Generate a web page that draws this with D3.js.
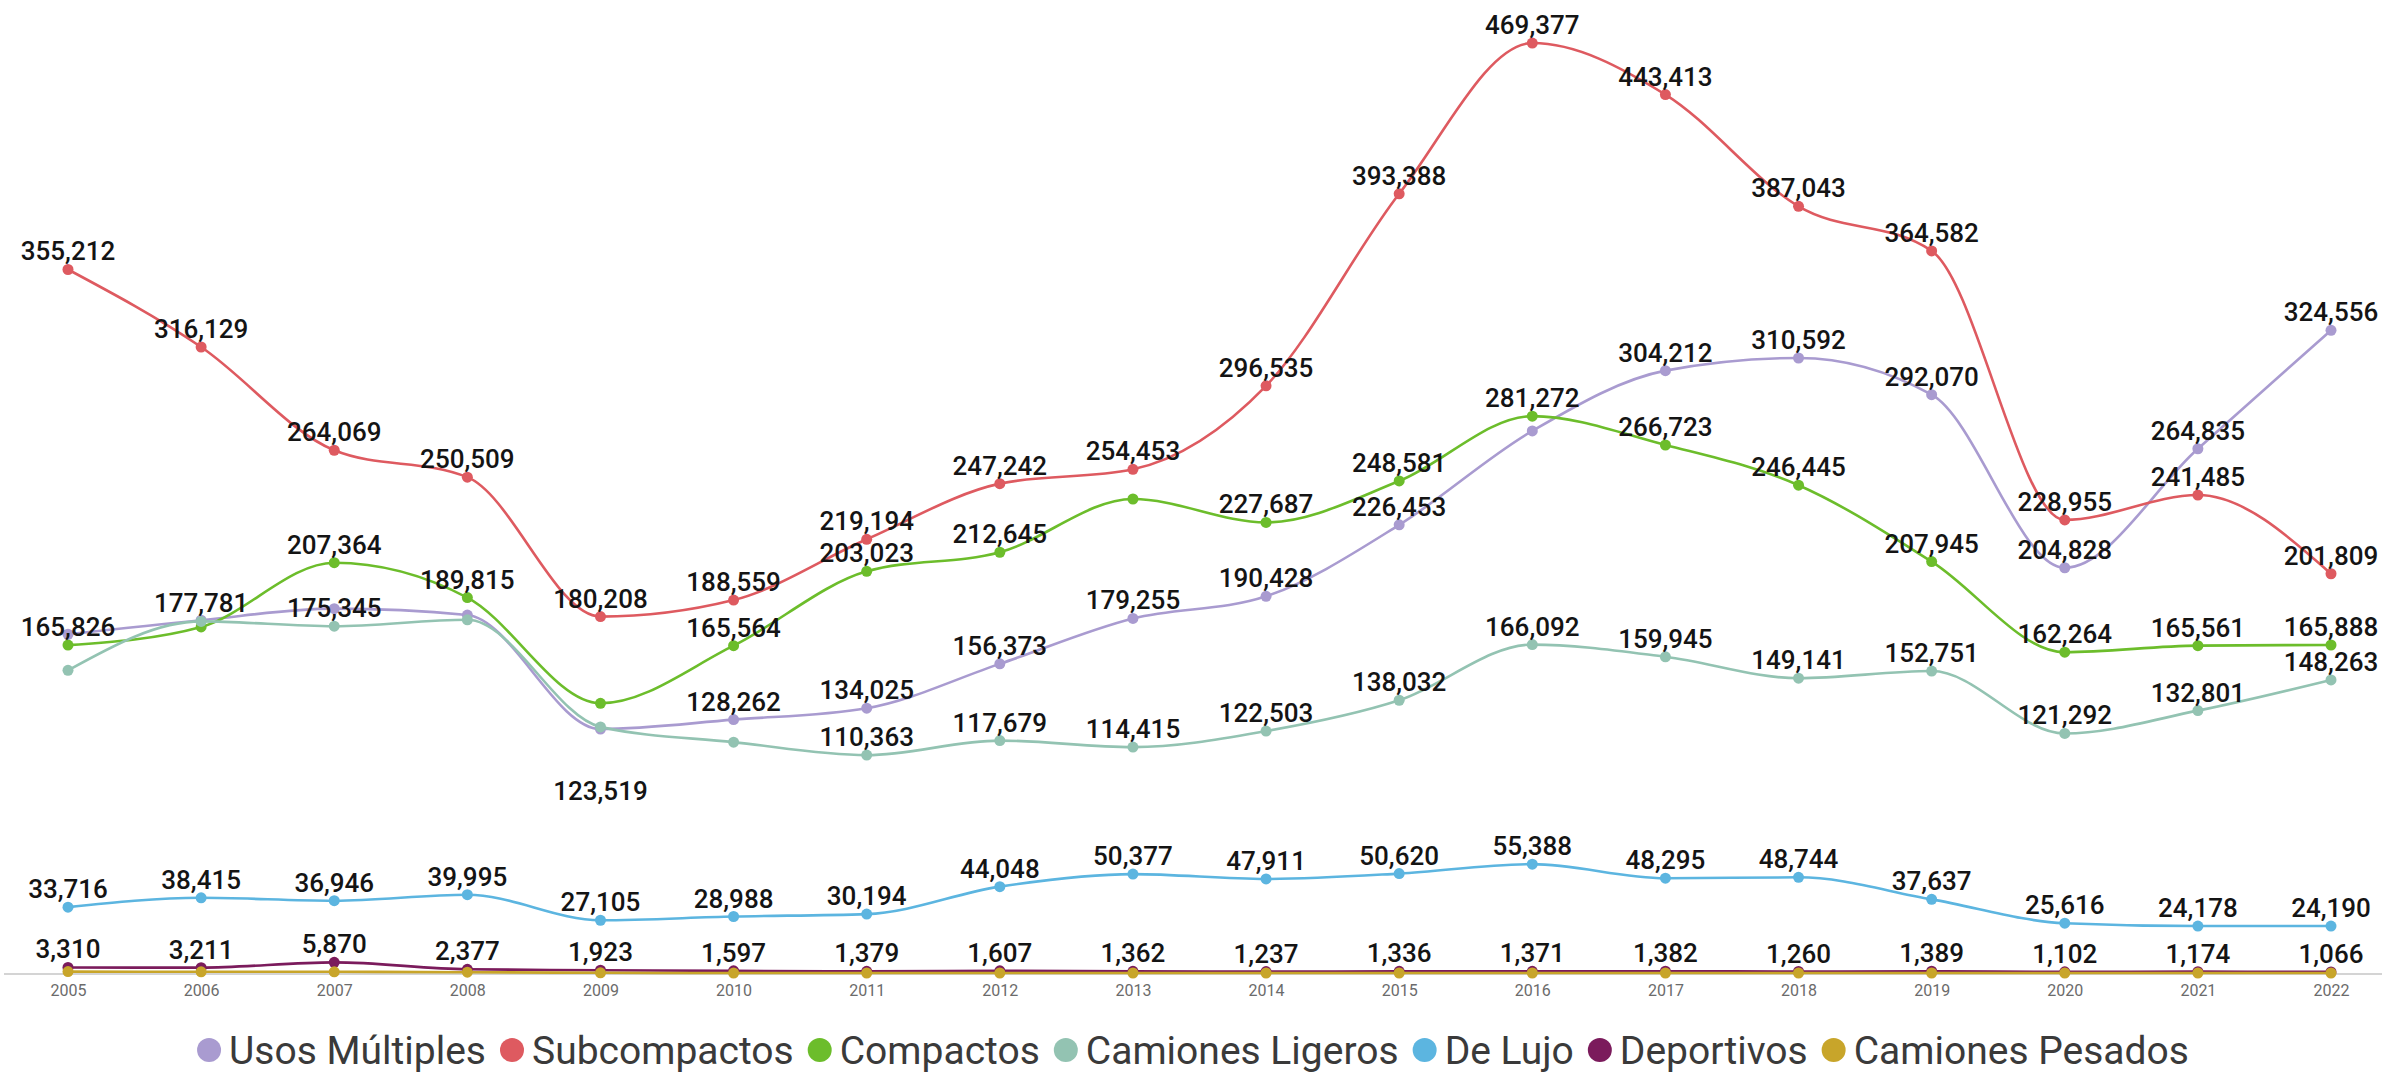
<!DOCTYPE html>
<html>
<head>
<meta charset="utf-8">
<script src="https://cdn.jsdelivr.net/npm/d3@7"></script>
<style>
  html, body { margin: 0; padding: 0; background: #ffffff; }
  svg { display: block; }
</style>
</head>
<body>
<svg id="chart" width="2386" height="1077"></svg>
<script>
// ---------------- DATA ----------------
const years = ["2005","2006","2007","2008","2009","2010","2011","2012","2013","2014","2015","2016","2017","2018","2019","2020","2021","2022"];

const seriesNames = ["Usos Múltiples","Subcompactos","Compactos","Camiones Ligeros","De Lujo","Deportivos","Camiones Pesados"];

const usosMultiples   = [171300, 178400, 184200, 181000, 123519, 128262, 134025, 156373, 179255, 190428, 226453, 273800, 304212, 310592, 292070, 204828, 264835, 324556];
const subcompactos    = [355212, 316129, 264069, 250509, 180208, 188559, 219194, 247242, 254453, 296535, 393388, 469377, 443413, 387043, 364582, 228955, 241485, 201809];
const compactos       = [165826, 175000, 207364, 189815, 136500, 165564, 203023, 212645, 239500, 227687, 248581, 281272, 266723, 246445, 207945, 162264, 165561, 165888];
const camionesLigeros = [153100, 177781, 175345, 178600, 124600, 116900, 110363, 117679, 114415, 122503, 138032, 166092, 159945, 149141, 152751, 121292, 132801, 148263];
const deLujo          = [33716, 38415, 36946, 39995, 27105, 28988, 30194, 44048, 50377, 47911, 50620, 55388, 48295, 48744, 37637, 25616, 24178, 24190];
const deportivos      = [3310, 3211, 5870, 2377, 1923, 1597, 1379, 1607, 1362, 1237, 1336, 1371, 1382, 1260, 1389, 1102, 1174, 1066];
const camionesPesados = [1200, 1100, 1100, 900, 600, 500, 500, 500, 500, 500, 500, 500, 500, 500, 500, 500, 500, 500];

const seriesColors = ["#a99bd0", "#de5a60", "#6cbd2b", "#93c3b2", "#5cb5e0", "#7b1b5c", "#c8a52a"];

// labels not shown in the original (overlaps), and labels placed under their point
const hiddenLabels = [
  ["Usos Múltiples","2005"],["Usos Múltiples","2006"],["Usos Múltiples","2007"],["Usos Múltiples","2008"],["Usos Múltiples","2016"],
  ["Compactos","2006"],["Compactos","2009"],["Compactos","2013"],
  ["Camiones Ligeros","2005"],["Camiones Ligeros","2008"],["Camiones Ligeros","2009"],["Camiones Ligeros","2010"]
];
const belowLabels = [["Usos Múltiples","2009"]];
const hiddenSeriesLabels = ["Camiones Pesados"];

// ---------------- CHART ----------------
const valuesList = [usosMultiples, subcompactos, compactos, camionesLigeros, deLujo, deportivos, camionesPesados];
const series = seriesNames.map((name, i) => ({
  name, color: seriesColors[i],
  points: years.map((y, j) => ({ year: y, value: valuesList[i][j] }))
}));

const svg = d3.select("#chart");
const W = 2386, H = 1077;

const x = d3.scalePoint().domain(years).range([68, 2331]);
const y = d3.scaleLinear().domain([0, 480000]).range([974, 22]);

// baseline axis
const xAxis = d3.axisBottom(x).tickSize(0).tickPadding(11);
const gx = svg.append("g").attr("transform", "translate(0,974)").call(xAxis);
gx.select(".domain").remove();
gx.append("line").attr("x1", 4).attr("x2", W - 4).attr("y1", 0).attr("y2", 0)
  .attr("stroke", "#d4d4d4").attr("stroke-width", 2);
gx.selectAll(".tick text")
  .attr("font-family", "Roboto, 'Noto Sans', sans-serif")
  .attr("font-size", 16)
  .attr("fill", "#6b6b6b");

const line = d3.line()
  .x(d => x(d.year))
  .y(d => y(d.value))
  .curve(d3.curveMonotoneX);

const gLines = svg.append("g");
series.forEach(s => {
  const g = gLines.append("g");
  g.append("path").datum(s.points)
    .attr("d", line)
    .attr("fill", "none")
    .attr("stroke", s.color)
    .attr("stroke-width", 2.6);
  g.selectAll("circle").data(s.points).enter().append("circle")
    .attr("cx", d => x(d.year))
    .attr("cy", d => y(d.value))
    .attr("r", 5.5)
    .attr("fill", s.color);
});

const isIn = (list, name, yr) => list.some(e => e[0] === name && e[1] === yr);
const fmt = d3.format(",");
const gLabels = svg.append("g")
  .attr("font-family", "Roboto, 'Noto Sans', sans-serif")
  .attr("font-size", 26)
  .attr("font-weight", 500)
  .attr("fill", "#141414")
  .attr("text-anchor", "middle");
series.forEach(s => {
  if (hiddenSeriesLabels.includes(s.name)) return;
  s.points.forEach(p => {
    if (isIn(hiddenLabels, s.name, p.year)) return;
    const below = isIn(belowLabels, s.name, p.year);
    gLabels.append("text")
      .attr("x", x(p.year))
      .attr("y", below ? y(p.value) + 71 : y(p.value) - 9)
      .text(fmt(p.value));
  });
});

// legend
const legend = svg.append("g");
let cursor = 0;
series.forEach(s => {
  const g = legend.append("g");
  g.append("circle").attr("cx", cursor + 12).attr("cy", 0).attr("r", 12).attr("fill", s.color);
  const t = g.append("text").attr("x", cursor + 32).attr("y", 14)
    .attr("font-family", "Roboto, 'Noto Sans', sans-serif")
    .attr("font-size", 39)
    .attr("fill", "#3a3a3a")
    .text(s.name);
  const w = t.node().getComputedTextLength();
  cursor += 32 + w + 14;
});
const totalW = cursor - 14;
legend.attr("transform", `translate(${(W - totalW) / 2},1050)`);
</script>
</body>
</html>
